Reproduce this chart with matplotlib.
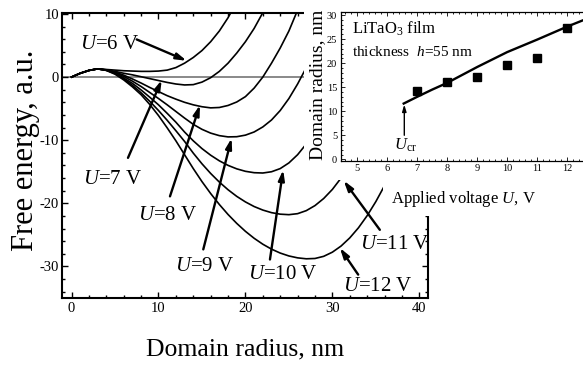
import matplotlib
matplotlib.use("Agg")
import matplotlib.pyplot as plt
from matplotlib.patches import Rectangle
from matplotlib.ticker import MultipleLocator

plt.rcParams['font.family'] = ['Liberation Serif', 'DejaVu Serif']
plt.rcParams['mathtext.fontset'] = 'custom'
plt.rcParams['mathtext.rm'] = 'Liberation Serif'
plt.rcParams['mathtext.it'] = 'Liberation Serif:italic'
plt.rcParams['axes.unicode_minus'] = False

W, H = 583, 367  # output size, px

# --- main panel: free energy vs domain radius (1 nm step from r = 0) ---
radius = list(range(0, 37))
f_u6 = [0, 0.6, 1.05, 1.3, 1.2, 1.1, 1.0, 0.95, 0.9, 0.9, 0.95, 1.1, 1.5,
        2.2, 3.1, 4.2, 5.6, 7.3, 9.4, 11.9]
f_u7 = [0, 0.6, 1.05, 1.3, 1.15, 0.9, 0.6, 0.35, 0.05, -0.25, -0.55, -0.85,
        -1.1, -1.25, -1.2, -0.8, -0.1, 0.9, 2.2, 3.8, 5.6, 7.7, 10.2]
f_u8 = [0, 0.6, 1.05, 1.3, 1.12, 0.78, 0.3, -0.3, -0.95, -1.65, -2.3, -2.95,
        -3.5, -4.0, -4.4, -4.7, -4.88, -4.82, -4.5, -3.95, -3.1, -1.75, 0.0,
        2.2, 4.6, 7.3, 10.6]
f_u9 = [0, 0.6, 1.05, 1.3, 1.1, 0.7, 0.1, -0.65, -1.5, -2.45, -3.4, -4.4,
        -5.45, -6.5, -7.49, -8.28, -8.88, -9.28, -9.48, -9.45, -9.2, -8.7,
        -7.9, -6.8, -5.3, -3.4, -1.1, 1.5]
f_u10 = [0, 0.6, 1.05, 1.3, 1.08, 0.6, -0.15, -1.0, -2.05, -3.2, -4.4, -5.75,
         -7.15, -8.71, -10.1, -11.33, -12.38, -13.27, -13.99, -14.54, -14.93,
         -15.15, -15.2, -15.0, -14.5, -13.6, -12.3, -10.6]
f_u11 = [0, 0.6, 1.05, 1.3, 1.07, 0.55, -0.3, -1.3, -2.5, -3.85, -5.3, -6.85,
         -8.5, -10.2, -12.05, -13.74, -15.27, -16.64, -17.85, -18.9, -19.78,
         -20.51, -21.07, -21.48, -21.72, -21.8, -21.64, -21.16, -20.36, -19.24,
         -17.8, -16.0, -13.9]
f_u12 = [0, 0.6, 1.05, 1.3, 1.05, 0.45, -0.45, -1.55, -2.8, -4.35, -6.1, -8.05,
         -10.1, -12.3, -14.5, -16.56, -18.45, -20.19, -21.77, -23.18, -24.44,
         -25.54, -26.48, -27.26, -27.88, -28.34, -28.64, -28.79, -28.74, -28.4,
         -27.74, -26.77, -25.48, -23.88, -21.96, -19.73, -17.2]
energies = [f_u6, f_u7, f_u8, f_u9, f_u10, f_u11, f_u12]
voltages = [6, 7, 8, 9, 10, 11, 12]

# label text positions and arrows (data coords of the main panel)
label_xy = [(0.98, 4.38), (1.36, -16.95), (7.68, -22.7), (11.9, -30.75),
            (20.3, -31.96), (33.16, -27.2), (31.24, -33.9)]
arrow_from = [(7.49, 5.96), (6.49, -12.8), (11.32, -18.9), (15.15, -27.3),
              (22.82, -28.9), (35.46, -24.2), (32.97, -31.3)]
arrow_to = [(13.24, 2.58), (10.37, -0.47), (14.77, -4.42), (18.41, -9.68),
            (24.34, -14.7), (31.3, -16.4), (30.86, -27.06)]

# --- inset: domain radius vs applied voltage ---
u_theory = [6.55, 7, 7.5, 8, 9, 10, 11, 12, 12.8]
r_theory = [11.6, 13.0, 14.5, 15.9, 19.2, 22.3, 24.9, 27.6, 29.6]
u_exp = [7, 8, 9, 10, 11, 12]
r_exp = [14.3, 16.1, 17.2, 19.6, 21.1, 27.3]
u_cr = 6.57

fig = plt.figure(figsize=(W / 100, H / 100), dpi=100)

ax = fig.add_axes([62 / W, 1 - 298 / H, 366 / W, (298 - 13.3) / H])
ax.axhline(0, color='#808080', lw=1.3, zorder=1)
for f in energies:
    ax.plot(radius[:len(f)], f, color='k', lw=1.2, zorder=2)

arrow_kw = dict(arrowstyle='-|>,head_length=0.6,head_width=0.18', lw=1.7,
                color='k', shrinkA=0, shrinkB=0, mutation_scale=10)
for u, xy, a0, a1 in zip(voltages, label_xy, arrow_from, arrow_to):
    ax.text(xy[0], xy[1], f'$U$=%d V' % u, fontsize=15, ha='left',
            va='baseline')
    ax.annotate('', xy=a1, xytext=a0, arrowprops=arrow_kw)

ax.set_xlim(-1.1, 41)
ax.set_ylim(-35, 10.1)
ax.set_xticks([0, 10, 20, 30, 40])
ax.set_yticks([-30, -20, -10, 0, 10])
ax.xaxis.set_minor_locator(MultipleLocator(2))
ax.yaxis.set_minor_locator(MultipleLocator(2))
ax.tick_params(which='both', direction='in', top=True, right=True,
               width=1.0, labelsize=10.5)
ax.tick_params(which='major', length=4)
ax.tick_params(which='minor', length=2)
ax.tick_params(axis='y', pad=2)
ax.tick_params(axis='x', pad=3)
for s in ax.spines.values():
    s.set_linewidth(1.5)

fig.text(33 / W, 1 - 150 / H, 'Free energy, a.u.', fontsize=22, rotation=90,
         rotation_mode='anchor', ha='center', va='baseline')
fig.text(245 / W, 1 - 355 / H, 'Domain radius, nm', fontsize=18.5,
         ha='center', va='baseline')

# white area behind the inset hides the corner of the main panel
fig.add_artist(Rectangle((304 / W, 1 - 180 / H), 1, 1, transform=fig.transFigure,
                         facecolor='white', edgecolor='none', zorder=1))
fig.add_artist(Rectangle((383 / W, 1 - 216 / H), 1, 1, transform=fig.transFigure,
                         facecolor='white', edgecolor='none', zorder=1))

# inset runs past the right edge of the picture, as in the original
ins = fig.add_axes([340.7 / W, 1 - 161 / H, 252 / W, (161 - 11.7) / H])
ins.set_zorder(2)
ins.plot(u_theory, r_theory, color='k', lw=1.7)
ins.plot(u_exp, r_exp, 's', color='k', ms=5.5)
ins.annotate('', xy=(u_cr, 11.4), xytext=(u_cr, 5.0),
             arrowprops=dict(arrowstyle='-|>,head_length=0.5,head_width=0.15',
                             lw=1.0, color='k', shrinkA=0, shrinkB=0,
                             mutation_scale=8))
ins.text(6.62, 2.1, r'$U_{\mathrm{cr}}$', fontsize=12, ha='center',
         va='baseline')
ins.text(4.82, 26.2, r'LiTaO$_3$ film', fontsize=12, ha='left', va='baseline')
ins.text(4.82, 21.5, r'thickness  $h$=55 nm', fontsize=11, ha='left',
         va='baseline')

ins.set_xlim(4.45, 4.45 + 252 / 30)
ins.set_ylim(-0.35, 30.7)
ins.set_xticks(range(5, 13))
ins.set_yticks(range(0, 31, 5))
ins.xaxis.set_minor_locator(MultipleLocator(0.2))
ins.yaxis.set_minor_locator(MultipleLocator(1))
ins.tick_params(which='both', direction='in', top=True, right=False,
                width=0.6, labelsize=7.5, pad=2.5)
ins.tick_params(which='major', length=3)
ins.tick_params(which='minor', length=1.5)
for s in ins.spines.values():
    s.set_linewidth(0.9)

ins.text(-0.0742, 0.509, 'Domain radius, nm', fontsize=14, rotation=90,
         rotation_mode='anchor', ha='center', va='baseline',
         transform=ins.transAxes)
ins.text(0.4853, -0.283, 'Applied voltage $U$, V', fontsize=12, ha='center',
         va='baseline', transform=ins.transAxes)

fig.savefig('out.png', dpi=100)
